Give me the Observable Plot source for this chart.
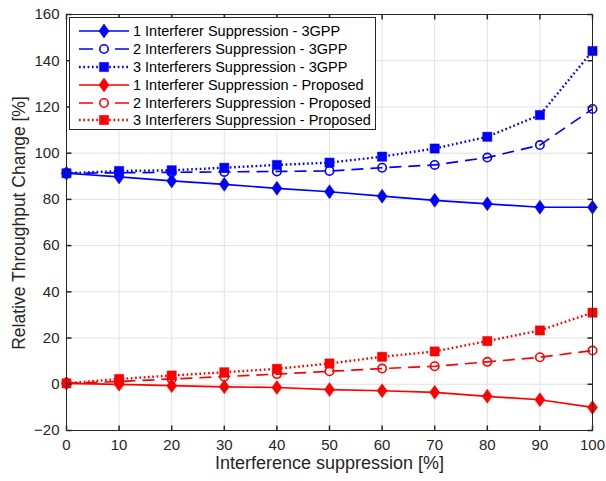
<!DOCTYPE html>
<html>
<head>
<meta charset="utf-8">
<script src="https://cdn.jsdelivr.net/npm/d3@7"></script>
<script src="https://cdn.jsdelivr.net/npm/@observablehq/plot@0.6"></script>
<style>
  html, body { margin: 0; padding: 0; background: #fff; }
  #wrap { position: relative; width: 606px; height: 481px; font-family: "Liberation Sans", Arial, sans-serif; }
  #legend { position: absolute; left: 69px; top: 17px; width: 307px; height: 113px; border: 1px solid #262626; background: #fff; box-sizing: border-box; padding-top: 4px; }
  .row { display: flex; align-items: center; height: 17.9px; }
  .row svg { flex: none; }
  .row span { font-size: 14.5px; color: #000; white-space: nowrap; }
  #ytitle { position: absolute; left: -131px; top: 213px; width: 300px; height: 20px; line-height: 20px; text-align: center; font-size: 17.5px; color: #262626; transform: rotate(-90deg); transform-origin: 150px 10px; white-space: nowrap; }
</style>
</head>
<body>
<div id="wrap"><div id="chart"></div><div id="legend"></div><div id="ytitle"></div></div>
<script>
// ---- data ----
const xValues = [0, 10, 20, 30, 40, 50, 60, 70, 80, 90, 100];
const oneInt3GPP   = [91.3, 89.7, 88.0, 86.5, 84.8, 83.3, 81.4, 79.6, 78.1, 76.6, 76.6];
const twoInt3GPP   = [91.3, 91.5, 91.7, 91.9, 92.1, 92.3, 93.7, 94.9, 98.1, 103.5, 119.1];
const threeInt3GPP = [91.3, 92.3, 92.6, 93.7, 94.9, 95.9, 98.5, 102.0, 107.1, 116.5, 144.2];
const oneIntProp   = [0.4, 0.0, -0.6, -1.1, -1.4, -2.3, -2.8, -3.5, -5.2, -6.7, -10.0];
const twoIntProp   = [0.4, 1.2, 2.3, 3.3, 4.4, 5.6, 6.8, 7.8, 9.7, 11.7, 14.6];
const threeIntProp = [0.4, 2.3, 3.8, 5.2, 6.7, 9.0, 11.9, 14.2, 18.7, 23.3, 31.0];
const seriesNames = [
  "1 Interferer Suppression - 3GPP",
  "2 Interferers Suppression - 3GPP",
  "3 Interferers Suppression - 3GPP",
  "1 Interferer Suppression - Proposed",
  "2 Interferers Suppression - Proposed",
  "3 Interferers Suppression - Proposed"
];
const xTicks = [0, 10, 20, 30, 40, 50, 60, 70, 80, 90, 100];
const yTicks = [-20, 0, 20, 40, 60, 80, 100, 120, 140, 160];
const xTitle = "Interference suppression [%]";
const yTitle = "Relative Throughput Change [%]";

// ---- styles ----
const BLUE = "#0000ff", RED = "#ff0000";
const symDiamond = {draw(c) { c.moveTo(0, -7); c.lineTo(5, 0); c.lineTo(0, 7); c.lineTo(-5, 0); c.closePath(); }};
const symSquare = {draw(c) { c.rect(-4.6, -4.6, 9.2, 9.2); }};
const symCircle = {draw(c) { c.moveTo(4.2, 0); c.arc(0, 0, 4.2, 0, 2 * Math.PI); c.closePath(); }};
const lineStyles = [
  {kind: "solid", dash: null, width: 1.7, sym: symDiamond, filled: true},
  {kind: "dash", dash: "12,7", width: 1.7, sym: symCircle, filled: false},
  {kind: "dot", dash: "1.7,2.6", width: 2.4, sym: symSquare, filled: true}
];
const allValues = [oneInt3GPP, twoInt3GPP, threeInt3GPP, oneIntProp, twoIntProp, threeIntProp];
const series = allValues.map((vals, i) => ({
  name: seriesNames[i],
  color: i < 3 ? BLUE : RED,
  style: lineStyles[i % 3],
  data: xValues.map((x, j) => ({x, y: vals[j]}))
}));

const tickLen = 5;
const tickUp = {draw(c) { c.moveTo(0, 0); c.lineTo(0, -tickLen); }};
const tickDown = {draw(c) { c.moveTo(0, 0); c.lineTo(0, tickLen); }};
const tickRight = {draw(c) { c.moveTo(0, 0); c.lineTo(tickLen, 0); }};
const tickLeft = {draw(c) { c.moveTo(0, 0); c.lineTo(-tickLen, 0); }};
const AX = "#262626";

const marks = [
  Plot.gridX(xTicks, {stroke: "#e2e2e2", strokeOpacity: 1}),
  Plot.gridY(yTicks, {stroke: "#e2e2e2", strokeOpacity: 1})
];
for (const s of series) {
  marks.push(Plot.line(s.data, {x: "x", y: "y", stroke: s.color, strokeWidth: s.style.width,
    strokeDasharray: s.style.dash || undefined, strokeLinecap: "butt"}));
}
for (const s of series) {
  marks.push(Plot.dot(s.data, {x: "x", y: "y", symbol: s.style.sym,
    fill: s.style.filled ? s.color : "none", stroke: s.color, strokeWidth: s.style.filled ? 0.5 : 1.6}));
}
marks.push(
  Plot.frame({stroke: AX, strokeWidth: 1}),
  Plot.dot(xTicks, {x: d => d, frameAnchor: "bottom", symbol: tickUp, stroke: AX, fill: "none"}),
  Plot.dot(xTicks, {x: d => d, frameAnchor: "top", symbol: tickDown, stroke: AX, fill: "none"}),
  Plot.dot(yTicks, {y: d => d, frameAnchor: "left", symbol: tickRight, stroke: AX, fill: "none"}),
  Plot.dot(yTicks, {y: d => d, frameAnchor: "right", symbol: tickLeft, stroke: AX, fill: "none"}),
  Plot.axisX(xTicks, {tickSize: 0, tickPadding: 9, label: null, fontSize: 15}),
  Plot.axisY(yTicks, {tickSize: 0, tickPadding: 7, label: null, fontSize: 15}),
  Plot.text([xTitle], {frameAnchor: "bottom", dy: 38, text: d => d, fontSize: 18, fill: AX})
);

const chart = Plot.plot({
  width: 606, height: 481,
  marginLeft: 66, marginRight: 14, marginTop: 14, marginBottom: 51,
  x: {domain: [0, 100]},
  y: {domain: [-20, 160]},
  style: {fontFamily: "'Liberation Sans', Arial, sans-serif", fontSize: "15px", color: AX, background: "#fff", overflow: "visible"},
  marks
});
document.getElementById("chart").appendChild(chart);
document.getElementById("ytitle").textContent = yTitle;

// ---- legend ----
const legend = document.getElementById("legend");
for (const s of series) {
  const row = document.createElement("div");
  row.className = "row";
  const ns = "http://www.w3.org/2000/svg";
  const svg = document.createElementNS(ns, "svg");
  svg.setAttribute("width", 63); svg.setAttribute("height", 18);
  const ln = document.createElementNS(ns, "line");
  ln.setAttribute("x1", 9); ln.setAttribute("x2", 59); ln.setAttribute("y1", 9); ln.setAttribute("y2", 9);
  ln.setAttribute("stroke", s.color); ln.setAttribute("stroke-width", s.style.width);
  if (s.style.dash) ln.setAttribute("stroke-dasharray", s.style.kind === "dash" ? "14,22,14" : s.style.dash);
  svg.appendChild(ln);
  const p = document.createElementNS(ns, "path");
  const path = d3.path();
  s.style.sym.draw(path);
  p.setAttribute("d", path.toString());
  p.setAttribute("transform", "translate(34,9)");
  p.setAttribute("fill", s.style.filled ? s.color : "none");
  p.setAttribute("stroke", s.color);
  p.setAttribute("stroke-width", s.style.filled ? 0.5 : 1.6);
  svg.appendChild(p);
  row.appendChild(svg);
  const t = document.createElement("span");
  t.textContent = s.name;
  row.appendChild(t);
  legend.appendChild(row);
}
</script>
</body>
</html>
